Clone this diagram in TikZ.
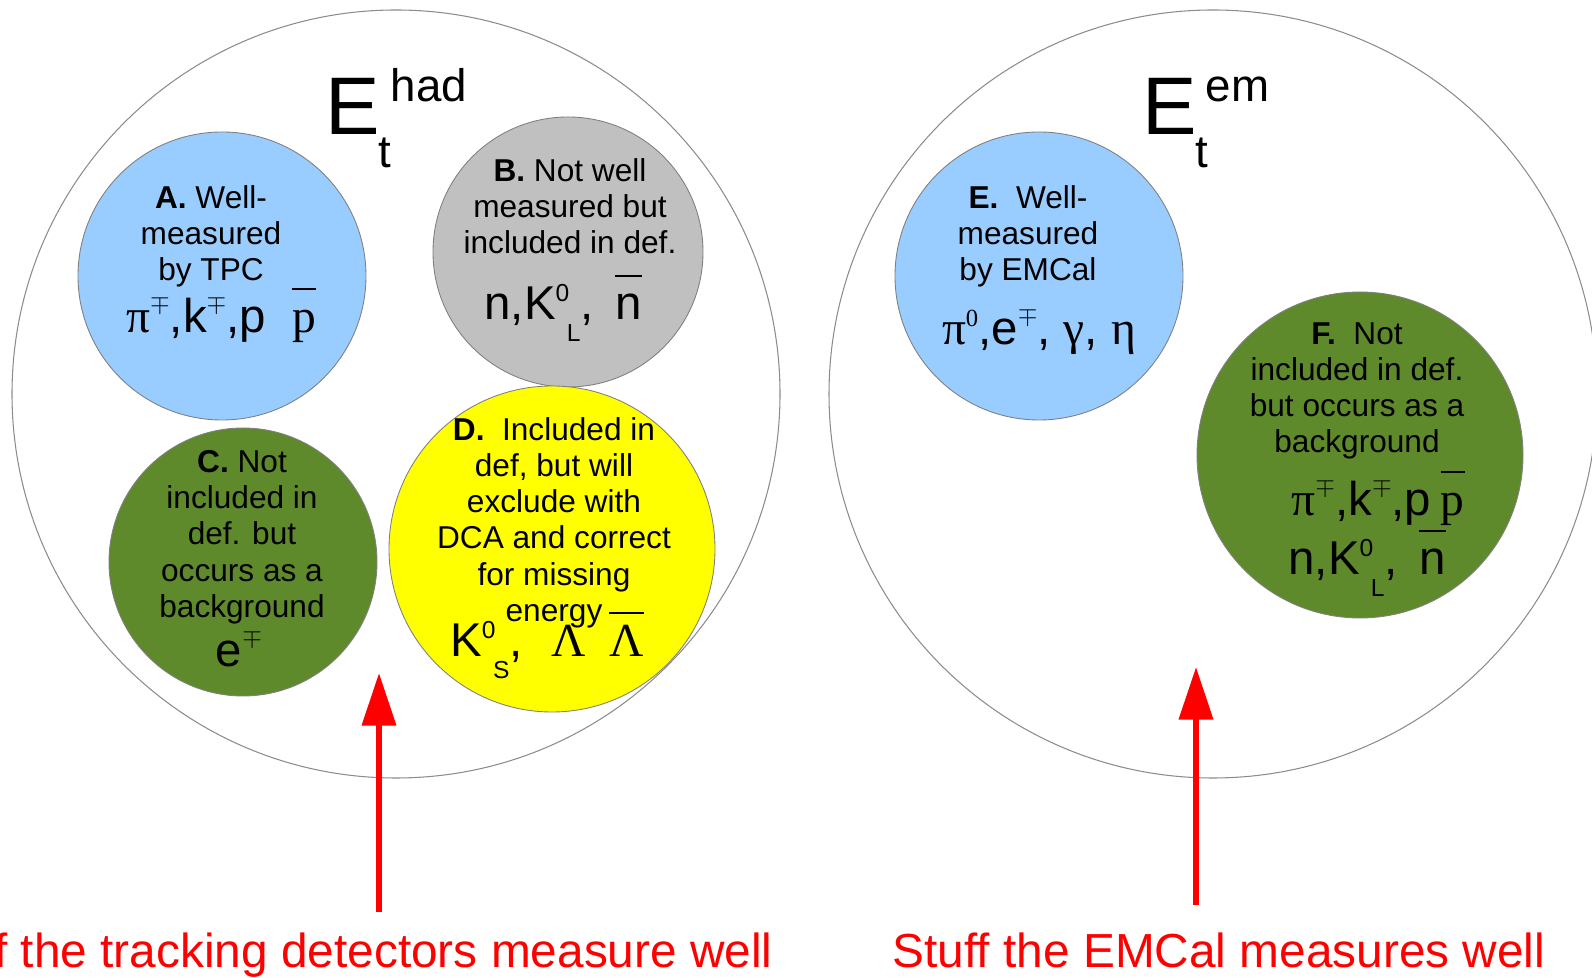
\documentclass[tikz,border=0pt]{standalone}
\usepackage{fontspec}
\setmainfont{Liberation Sans}
\newfontfamily\grk{Liberation Serif}
\usetikzlibrary{arrows.meta}

\definecolor{tpcblue}{HTML}{99CCFF}
\definecolor{defgray}{HTML}{C0C0C0}
\definecolor{bkgreen}{HTML}{5F8A2C}
\definecolor{dcayellow}{HTML}{FFFF00}

% small raised/lowered indices, the charge sign and the antiparticle bar
\newcommand{\hi}[1]{\raisebox{0.38em}{\fontsize{14}{14}\selectfont #1}}
\newcommand{\lo}[1]{\raisebox{-0.45em}{\fontsize{14}{14}\selectfont #1}}
\newcommand{\chg}{\raisebox{0.47em}{\fontsize{15}{15}\selectfont$\mp$}}
\newcommand{\anti}[1]{\setbox0\hbox{#1}\rlap{\rule[0.9em]{\wd0}{0.045em}}\box0}

\begin{document}
\begin{tikzpicture}[x=0.02cm, y=0.02cm,
    rim/.style={draw=gray!90, line width=0.6pt},
    blob/.style={draw=gray, line width=0.5pt},
    words/.style={align=center, anchor=north, inner sep=0pt,
      font=\fontsize{18}{20.6}\selectfont, execute at begin node=\strut},
    parts/.style={anchor=base, inner sep=0pt, font=\fontsize{27}{30}\selectfont},
    caption/.style={text=red, inner sep=0pt, text height=20pt, text depth=7pt,
      font=\fontsize{27.2}{30}\selectfont},
    pointer/.style={red, line width=3.4pt, -{Triangle[width=19pt,length=30pt]}}]

  \useasboundingbox (0,0) rectangle (1592,977);

  % the two totals
  \coordinate (had) at (396,583);
  \coordinate (em) at (1213,583);
  \draw[rim] (had) circle[radius=384];
  \draw[rim] (em) circle[radius=384];

  \node[anchor=base west, inner sep=0pt] (hadtitle) at (325,842)
    {\fontsize{46.5}{50}\selectfont E\fontsize{26}{28}\selectfont
     \kern-0.04em\rlap{\raisebox{-0.71em}{t}}\kern0.28em\raisebox{0.73em}{had}};
  \node[anchor=base west, inner sep=0pt] (emtitle) at (1142,842)
    {\fontsize{46.5}{50}\selectfont E\fontsize{26}{28}\selectfont
     \kern-0.04em\rlap{\raisebox{-0.71em}{t}}\kern0.24em\raisebox{0.73em}{em}};

  % categories inside E_t^had
  \coordinate (A) at (222,701);
  \coordinate (B) at (568,725);
  \coordinate (C) at (243,415);
  \coordinate (D) at (552,428);
  \draw[blob, fill=tpcblue] (A) circle[radius=144];
  \draw[blob, fill=defgray] (B) circle[radius=135];
  \draw[blob, fill=bkgreen] (C) circle[radius=134];
  \draw[blob, fill=dcayellow] (D) circle[radius=163];

  \node[words] (Atext) at (211,792) {\textbf{A.} Well-\\measured\\by TPC};
  \node[parts] (Aparts) at (221,644)
    {{\grk π}\chg,k\chg,p\hspace{0.55em}\anti{\grk p}};

  \node[words] (Btext) at (570,819) {\textbf{B.} Not well\\measured but\\included in def.};
  \node[parts] (Bparts) at (563,657)
    {n,K\hi{0}\kern-0.05em\lo{L},\hspace{0.45em}\anti{n}};

  \node[words] (Ctext) at (242,527)
    {\textbf{C.} Not\\included in\\def. but\\occurs as a\\background};
  \node[parts] (Cparts) at (239,310) {e\chg};

  \node[words] (Dtext) at (554,560)
    {\textbf{D.}~ Included in\\def, but will\\exclude with\\DCA and correct\\for missing\\energy};
  \node[parts] (Dparts) at (547,320)
    {K\hi{0}\kern-0.05em\lo{S},\hspace{0.6em}{\grk Λ}\hspace{0.5em}\anti{\grk Λ}};

  % categories inside E_t^em
  \coordinate (E) at (1039,701);
  \coordinate (F) at (1360,522);
  \draw[blob, fill=tpcblue] (E) circle[radius=144];
  \draw[blob, fill=bkgreen] (F) circle[radius=163];

  \node[words] (Etext) at (1028,792) {\textbf{E.}~ Well-\\measured\\by EMCal};
  \node[parts] (Eparts) at (1039,632)
    {{\grk π\hi{0}},e\chg, {\grk γ}, {\grk η}};

  \node[words] (Ftext) at (1357,655)
    {\textbf{F.}~ Not\\included in def.\\but occurs as a\\background};
  \node[parts] (Fparts) at (1378,461)
    {{\grk π}\chg,k\chg,p\hspace{0.2em}\anti{\grk p}};
  \node[parts] (Fneutral) at (1367,402)
    {n,K\hi{0}\kern-0.05em\lo{L},\hspace{0.45em}\anti{n}};

  % what each detector sees
  \node[caption, anchor=base east] (trk) at (773,10)
    {Stuff the tracking detectors measure well};
  \node[caption, anchor=base] (emc) at (1219,10)
    {Stuff the EMCal measures well};
  \coordinate (trktip) at (379,304);
  \coordinate (emctip) at (1196,310);
  \draw[pointer, shorten <=11pt] (trk.north -| trktip) -- (trktip);
  \draw[pointer, shorten <=15pt] (emc.north -| emctip) -- (emctip);
\end{tikzpicture}
\end{document}
